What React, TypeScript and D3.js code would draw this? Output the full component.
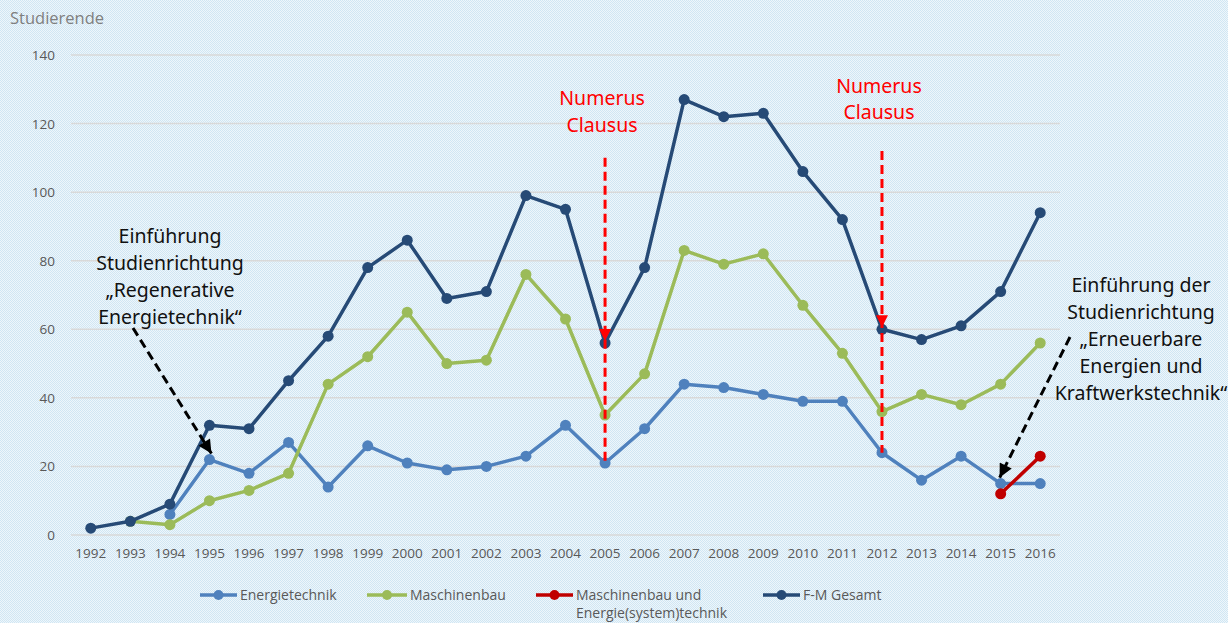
import * as d3 from "d3";

const years = ["1992","1993","1994","1995","1996","1997","1998","1999","2000","2001","2002","2003","2004","2005","2006","2007","2008","2009","2010","2011","2012","2013","2014","2015","2016"];

const energietechnik: (number | null)[] = [null, null, 6, 22, 18, 27, 14, 26, 21, 19, 20, 23, 32, 21, 31, 44, 43, 41, 39, 39, 24, 16, 23, 15, 15];
const maschinenbau: (number | null)[] = [null, 4, 3, 10, 13, 18, 44, 52, 65, 50, 51, 76, 63, 35, 47, 83, 79, 82, 67, 53, 36, 41, 38, 44, 56];
const mbEnergie: (number | null)[] = [null, null, null, null, null, null, null, null, null, null, null, null, null, null, null, null, null, null, null, null, null, null, null, 12, 23];
const gesamt: (number | null)[] = [2, 4, 9, 32, 31, 45, 58, 78, 86, 69, 71, 99, 95, 56, 78, 127, 122, 123, 106, 92, 60, 57, 61, 71, 94];

const yTicks = [0, 20, 40, 60, 80, 100, 120, 140];

const series = [
  { name: "Energietechnik", values: energietechnik, color: "#4f81bd", legendX: 200, legendW: 37 },
  { name: "Maschinenbau", values: maschinenbau, color: "#9bbb59", legendX: 367, legendW: 40 },
  { name: "Maschinenbau und|Energie(system)technik", values: mbEnergie, color: "#c00000", legendX: 536, legendW: 37 },
  { name: "F-M Gesamt", values: gesamt, color: "#264a76", legendX: 763, legendW: 37 },
];

// Numerus Clausus markers: year, top of the dashed line (value)
const ncMarks = [
  { year: "2005", top: 110, labelY: [105, 132] },
  { year: "2012", top: 112, labelY: [93, 119] },
];

const W = 1228;
const H = 623;

export default function App() {
  const x = d3.scaleBand<string>().domain(years).range([71, 1060]);
  const y = d3.scaleLinear().domain([0, 140]).range([535, 55]);
  const cx = (yr: string) => (x(yr) ?? 0) + x.bandwidth() / 2;

  const line = d3
    .line<number | null>()
    .defined((d) => d != null)
    .x((_, i) => cx(years[i]))
    .y((d) => y(d as number));

  const font = "'Open Sans', 'Noto Sans', sans-serif";
  const annFont = "'Noto Sans', 'Open Sans', sans-serif";

  return (
    <svg width={W} height={H} style={{ position: "absolute", left: 0, top: 0 }}>
      <defs>
        <pattern id="bg" width="2" height="2" patternUnits="userSpaceOnUse">
          <rect width="2" height="2" fill="#eef6fb" />
          <rect width="1" height="1" fill="#d0e6f3" />
          <rect x="1" y="1" width="1" height="1" fill="#d0e6f3" />
        </pattern>
        <marker id="arrBlack" viewBox="0 0 10 10" refX="10" refY="5" markerWidth="5" markerHeight="4.5" markerUnits="strokeWidth" orient="auto">
          <path d="M0,0 L10,5 L0,10 z" fill="#000" />
        </marker>
      </defs>
      <rect width={W} height={H} fill="url(#bg)" />

      <text x={10} y={24} fontFamily={font} fontSize={16.5} fill="#7f7f7f">Studierende</text>

      {yTicks.map((t) => (
        <g key={t}>
          <line x1={71} x2={1060} y1={y(t)} y2={y(t)} stroke="#d9d9d9" strokeWidth={1.5} />
          <text x={55} y={y(t) + 5} textAnchor="end" fontFamily={font} fontSize={13.5} fill="#595959">{t}</text>
        </g>
      ))}

      {years.map((yr) => (
        <text key={yr} x={cx(yr)} y={558} textAnchor="middle" fontFamily={font} fontSize={13.5} fill="#595959">{yr}</text>
      ))}

      {series.map((s) => (
        <g key={s.name}>
          <path d={line(s.values) ?? ""} fill="none" stroke={s.color} strokeWidth={3.5} strokeLinejoin="round" />
          {s.values.map((v, i) =>
            v == null ? null : <circle key={i} cx={cx(years[i])} cy={y(v)} r={5.5} fill={s.color} />
          )}
        </g>
      ))}

      {ncMarks.map((m) => {
        const i = years.indexOf(m.year);
        const xx = cx(m.year);
        const bottom = energietechnik[i] as number;
        const tip = gesamt[i] as number;
        return (
          <g key={m.year}>
            <line x1={xx} x2={xx} y1={y(m.top)} y2={y(bottom)} stroke="#ff0000" strokeWidth={3} strokeDasharray="9,5" />
            <path d={`M${xx - 6},${y(tip) - 14} L${xx + 6},${y(tip) - 14} L${xx},${y(tip) - 2} z`} fill="#ff0000" />
            <text x={xx - 3} y={m.labelY[0]} textAnchor="middle" fontFamily={annFont} fontSize={19.5} fill="#ff0000">Numerus</text>
            <text x={xx - 3} y={m.labelY[1]} textAnchor="middle" fontFamily={annFont} fontSize={19.5} fill="#ff0000">Clausus</text>
          </g>
        );
      })}

      {/* left annotation */}
      {["Einführung", "Studienrichtung", "„Regenerative", "Energietechnik“"].map((t, i) => (
        <text key={t} x={170} y={243 + i * 27} textAnchor="middle" fontFamily={annFont} fontSize={19.5} fill="#111">{t}</text>
      ))}
      <line x1={133} y1={328} x2={cx("1995") + 2} y2={y(energietechnik[3] as number) - 6} stroke="#000" strokeWidth={3} strokeDasharray="9,5" markerEnd="url(#arrBlack)" />

      {/* right annotation */}
      {["Einführung der", "Studienrichtung", "„Erneuerbare", "Energien und", "Kraftwerkstechnik“"].map((t, i) => (
        <text key={t} x={1141} y={292 + i * 27} textAnchor="middle" fontFamily={annFont} fontSize={19.5} fill="#111">{t}</text>
      ))}
      <line x1={1070} y1={337} x2={cx("2015") - 1} y2={y(energietechnik[23] as number) - 6} stroke="#000" strokeWidth={3} strokeDasharray="9,5" markerEnd="url(#arrBlack)" />

      {/* legend */}
      {series.map((s) => {
        const lines = s.name.split("|");
        return (
          <g key={s.name}>
            <line x1={s.legendX} x2={s.legendX + s.legendW} y1={595} y2={595} stroke={s.color} strokeWidth={3.5} />
            <circle cx={s.legendX + s.legendW / 2} cy={595} r={5} fill={s.color} />
            {lines.map((l, i) => (
              <text key={l} x={s.legendX + s.legendW + 3} y={600 + i * 18} fontFamily={font} fontSize={14} fill="#595959">{l}</text>
            ))}
          </g>
        );
      })}
    </svg>
  );
}
